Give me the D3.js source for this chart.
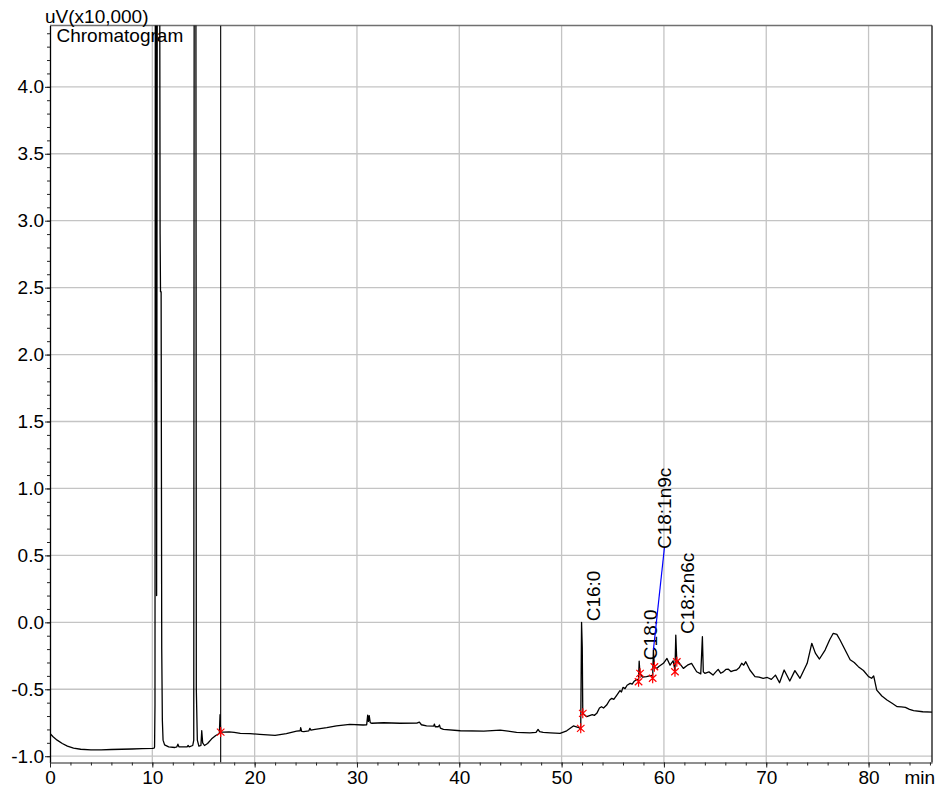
<!DOCTYPE html>
<html>
<head>
<meta charset="utf-8">
<script src="https://cdn.jsdelivr.net/npm/d3@7"></script>
<style>
  html, body { margin: 0; padding: 0; background: #fff; }
  svg { display: block; font-family: "Liberation Sans", Arial, sans-serif; }
</style>
</head>
<body>
<svg id="chart" width="941" height="795"></svg>
<script>
// Retention time (min) of each detector sample
const timeMin = [
  0.0, 0.3, 0.7, 1.2, 1.7, 2.3, 3.0, 4.0, 5.0, 6.0, 7.0, 8.0, 9.0, 10.0,
  10.18, 10.22, 10.26, 10.30, 10.36, 10.42, 10.50, 10.70, 10.76, 10.80, 10.86, 10.92, 10.98, 11.05,
  11.2, 11.6, 12.2, 12.4, 12.5, 12.6, 13.0, 13.4, 13.5, 13.6, 13.95, 14.05, 14.10, 14.25, 14.30, 14.40,
  14.55, 14.75, 14.83, 14.92, 15.1, 15.4, 15.8, 16.2, 16.55, 16.62, 16.66, 16.7, 17.0, 17.5, 18.0, 18.6,
  19.55, 20.5, 22.0, 23.1, 24.1, 24.45, 24.5, 24.6, 24.8, 25.3, 25.4, 25.5, 25.9, 27.05, 28.0, 29.3,
  30.6, 30.95, 31.05, 31.12, 31.2, 31.3, 31.45, 32.6, 34.2, 35.85, 36.1, 36.3, 36.8, 37.5, 37.57, 37.65,
  37.95, 38.06, 38.15, 38.45, 40.1, 42.4, 44.0, 45.6, 46.9, 47.5, 47.7, 47.85, 48.2, 48.9, 49.85, 50.5,
  51.15, 51.6, 51.87, 51.95, 52.02, 52.07, 52.46, 53.0, 53.2, 53.44, 53.7, 53.9, 54.1, 54.4, 54.7, 54.9,
  55.1, 55.4, 55.7, 55.85, 56.0, 56.2, 56.4, 56.7, 56.9, 57.1, 57.35, 57.52, 57.58, 57.66, 57.9, 58.3,
  58.8, 58.9, 58.97, 59.07, 59.3, 59.5, 59.95, 60.3, 60.6, 60.9, 61.08, 61.16, 61.26, 61.4, 61.9, 62.3,
  62.7, 63.2, 63.6, 63.76, 63.85, 64.0, 64.4, 64.8, 65.05, 65.3, 65.55, 65.8, 66.05, 66.3, 66.55, 66.8,
  67.1, 67.35, 67.6, 67.8, 68.0, 68.4, 68.9, 69.3, 69.7, 70.1, 70.5, 70.9, 71.3, 71.75, 72.3, 72.8,
  73.3, 74.0, 74.45, 74.8, 75.2, 75.75, 76.2, 76.55, 76.9, 77.2, 77.55, 78.2, 78.6, 79.0, 79.5, 80.0,
  80.3, 80.5, 80.8, 81.3, 81.8, 82.3, 82.8, 83.2, 83.6, 84.0, 84.4, 85.3, 86.2
];

// Detector response, uV (x10,000)
const signal = [
  -0.83, -0.855, -0.88, -0.905, -0.925, -0.94, -0.948, -0.952, -0.952, -0.95, -0.948, -0.946, -0.944, -0.942,
  -0.94, -0.93, -0.62, 6.0, 6.0, 0.2, 6.0, 6.0, 2.9, 2.47, 2.47, -0.2, -0.73, -0.88,
  -0.915, -0.93, -0.935, -0.93, -0.91, -0.93, -0.93, -0.93, -0.92, -0.93, -0.92, -0.88, 6.0, 6.0, -0.5, -0.88,
  -0.925, -0.92, -0.81, -0.90, -0.92, -0.905, -0.87, -0.845, -0.83, -0.69, -0.78, -0.82, -0.82, -0.818, -0.822, -0.83,
  -0.831, -0.837, -0.844, -0.831, -0.812, -0.81, -0.787, -0.815, -0.817, -0.81, -0.792, -0.805, -0.80, -0.787, -0.774, -0.762,
  -0.767, -0.765, -0.693, -0.74, -0.697, -0.75, -0.754, -0.75, -0.754, -0.753, -0.745, -0.765, -0.774, -0.775, -0.76, -0.78,
  -0.78, -0.767, -0.79, -0.80, -0.81, -0.812, -0.805, -0.822, -0.825, -0.822, -0.80, -0.817, -0.822, -0.825, -0.829, -0.81,
  -0.774, -0.784, -0.795, 0.0, -0.19, -0.68, -0.705, -0.69, -0.695, -0.68, -0.64, -0.63, -0.64, -0.618, -0.58, -0.568,
  -0.575, -0.543, -0.51, -0.52, -0.486, -0.495, -0.47, -0.456, -0.462, -0.44, -0.426, -0.43, -0.29, -0.38, -0.41, -0.406,
  -0.396, -0.41, -0.207, -0.33, -0.345, -0.33, -0.306, -0.27, -0.32, -0.287, -0.36, -0.095, -0.294, -0.294, -0.344, -0.32,
  -0.306, -0.369, -0.385, -0.107, -0.37, -0.381, -0.37, -0.394, -0.372, -0.351, -0.38, -0.37, -0.352, -0.35, -0.368, -0.36,
  -0.356, -0.34, -0.306, -0.32, -0.294, -0.356, -0.406, -0.41, -0.418, -0.412, -0.426, -0.394, -0.451, -0.356, -0.438, -0.361,
  -0.418, -0.306, -0.157, -0.23, -0.274, -0.207, -0.13, -0.082, -0.09, -0.13, -0.182, -0.28, -0.30, -0.331, -0.36, -0.406,
  -0.418, -0.40, -0.506, -0.55, -0.58, -0.605, -0.63, -0.632, -0.635, -0.65, -0.66, -0.668, -0.67
];

// Identified peaks
const peakNames    = ["C16:0", "C18:0", "C18:1n9c", "C18:2n6c"];
const peakTimes    = [51.95, 57.58, 58.97, 61.16];
const peakHeights  = [0.0, -0.29, -0.207, -0.095];
const labelHeights = [0.0, -0.29, 0.54, -0.095];

// Integration start/end points
const markerTimes  = [16.68, 51.87, 52.07, 57.52, 57.67, 58.9, 59.07, 61.08, 61.26];
const markerValues = [-0.82, -0.792, -0.68, -0.444, -0.381, -0.418, -0.332, -0.369, -0.294];

// Event line
const eventTimes = [16.68];

// Axis ticks
const xMajorTicks = [0, 10, 20, 30, 40, 50, 60, 70, 80];
const xMinorTicks = d3.range(0, 87, 2);
const yMajorTicks = [-1.0, -0.5, 0.0, 0.5, 1.0, 1.5, 2.0, 2.5, 3.0, 3.5, 4.0];
const yMinorTicks = d3.range(-10, 45, 1).map(d => d / 10);

const svg = d3.select("#chart");
const plotLeft = 50, plotRight = 932, plotTop = 25.5, plotBottom = 762.5;
const fontSize = 19;

const x = d3.scaleLinear().domain([0, 86.2]).range([plotLeft, plotRight]);
const y = d3.scaleLinear().domain([-1.047, 4.458]).range([plotBottom, plotTop]);

svg.append("defs").append("clipPath").attr("id", "plotClip")
  .append("rect").attr("x", plotLeft).attr("y", plotTop)
  .attr("width", plotRight - plotLeft).attr("height", plotBottom - plotTop);

// Grid
const grid = svg.append("g").attr("stroke", "#c4c4c4").attr("stroke-width", 1.3);
grid.selectAll("line.v").data(xMajorTicks.filter(d => d > 0)).join("line")
  .attr("class", "v")
  .attr("x1", d => x(d)).attr("x2", d => x(d))
  .attr("y1", plotTop).attr("y2", plotBottom);
grid.selectAll("line.h").data(yMajorTicks).join("line")
  .attr("class", "h")
  .attr("x1", plotLeft).attr("x2", plotRight)
  .attr("y1", d => y(d)).attr("y2", d => y(d));

// Frame (top and right)
svg.append("line").attr("x1", plotLeft).attr("x2", plotRight).attr("y1", plotTop).attr("y2", plotTop)
  .attr("stroke", "#707070").attr("stroke-width", 1.6);
svg.append("line").attr("x1", plotRight).attr("x2", plotRight).attr("y1", plotTop).attr("y2", plotBottom)
  .attr("stroke", "#111").attr("stroke-width", 1.3);

// Axes
const fmt = v => v.toFixed(1);
const yAxis = svg.append("g").attr("transform", `translate(${plotLeft},0)`)
  .call(d3.axisLeft(y).tickValues(yMajorTicks).tickFormat(fmt).tickSize(5).tickPadding(1).tickSizeOuter(0));
const yMinor = svg.append("g").attr("transform", `translate(${plotLeft},0)`)
  .call(d3.axisLeft(y).tickValues(yMinorTicks).tickFormat("").tickSize(3).tickSizeOuter(0));
const xAxis = svg.append("g").attr("transform", `translate(0,${plotBottom})`)
  .call(d3.axisBottom(x).tickValues(xMajorTicks).tickFormat(d3.format("d")).tickSize(5).tickPadding(3).tickSizeOuter(0));
const xMinor = svg.append("g").attr("transform", `translate(0,${plotBottom})`)
  .call(d3.axisBottom(x).tickValues(xMinorTicks).tickFormat("").tickSize(3).tickSizeOuter(0));

[yAxis, yMinor, xAxis, xMinor].forEach(g => {
  g.selectAll("text").attr("font-size", fontSize).attr("fill", "#000")
    .attr("font-family", '"Liberation Sans", Arial, sans-serif');
  g.selectAll(".tick line").attr("stroke", "#222");
});
yAxis.select(".domain").attr("stroke", "#000").attr("stroke-width", 1.3);
yMinor.select(".domain").remove();
xAxis.select(".domain").attr("stroke", "#6a6a6a").attr("stroke-width", 1.6);
xMinor.select(".domain").remove();

// Axis titles
svg.append("text").attr("x", 45).attr("y", 22.5).attr("font-size", fontSize).text("uV(x10,000)");
svg.append("text").attr("x", 56.5).attr("y", 42).attr("font-size", fontSize).text("Chromatogram");
svg.append("text").attr("x", 935).attr("y", plotBottom + 8 + 0.71 * fontSize).attr("text-anchor", "end")
  .attr("font-size", fontSize).text("min");

const plot = svg.append("g").attr("clip-path", "url(#plotClip)");

// Event line
plot.selectAll("line.event").data(eventTimes).join("line")
  .attr("class", "event")
  .attr("x1", d => x(d)).attr("x2", d => x(d))
  .attr("y1", plotTop).attr("y2", plotBottom)
  .attr("stroke", "#000").attr("stroke-width", 1.1);

// Trace
const points = timeMin.map((t, i) => [t, signal[i]]);
plot.append("path").datum(points)
  .attr("fill", "none").attr("stroke", "#000").attr("stroke-width", 1.3)
  .attr("stroke-linejoin", "round")
  .attr("d", d3.line().x(d => x(d[0])).y(d => y(d[1])));

// Integration markers: a vertical stroke crossed by an X
const markSymbol = {
  draw(context, size) {
    const r = Math.sqrt(size) / 2;
    const dx = r * 0.75, dy = r * 0.7;
    context.moveTo(0, -r); context.lineTo(0, r);
    context.moveTo(-dx, -dy); context.lineTo(dx, dy);
    context.moveTo(-dx, dy); context.lineTo(dx, -dy);
  }
};
const star = d3.symbol().type(markSymbol).size(100);
plot.selectAll("path.marker").data(markerTimes.map((t, i) => [t, markerValues[i]])).join("path")
  .attr("class", "marker")
  .attr("transform", d => `translate(${x(d[0])},${y(d[1])})`)
  .attr("d", star).attr("fill", "none").attr("stroke", "#ff0000").attr("stroke-width", 1.2);

// Peak labels and leaders
const labelOffset = 18;
peakNames.forEach((name, i) => {
  const px = x(peakTimes[i]);
  const py = y(peakHeights[i]);
  const ly = y(labelHeights[i]);
  if (labelHeights[i] !== peakHeights[i]) {
    svg.append("line")
      .attr("x1", px).attr("y1", py)
      .attr("x2", px + labelOffset - 7).attr("y2", ly - 2)
      .attr("stroke", "#0000ff").attr("stroke-width", 1.2);
  }
  svg.append("text")
    .attr("transform", `translate(${px + labelOffset},${ly - 1}) rotate(-90)`)
    .attr("font-size", fontSize).text(name);
});
</script>
</body>
</html>
